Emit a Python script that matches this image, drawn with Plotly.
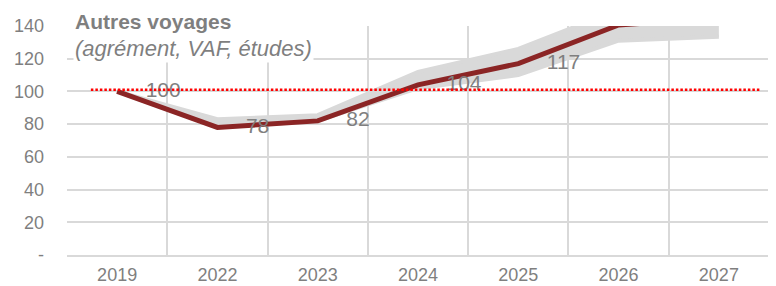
import plotly.graph_objects as go

years = ["2019", "2022", "2023", "2024", "2025", "2026", "2027"]
central = [100, 78, 82, 104, 117, 140.6, 145]
band_low = [100, 78, 82, 102, 110, 131, 133.5]
band_high = [100, 83, 85.5, 112, 126, 150, 155]
ref_level = 101
y_ticks = [0, 20, 40, 60, 80, 100, 120, 140]
y_ticktext = ["-", "20", "40", "60", "80", "100", "120", "140"]
Y_MAX = 140

GRAY_TXT = "#7f7f7f"
GRID = "#d9d9d9"
FONT = "Liberation Sans, Arial, sans-serif"

fig = go.Figure()

fig.add_trace(go.Scatter(x=years, y=band_low, mode="lines",
                         line=dict(color=GRID, width=4), hoverinfo="skip", showlegend=False))
fig.add_trace(go.Scatter(x=years, y=band_high, mode="lines", fill="tonexty",
                         fillcolor=GRID, line=dict(color=GRID, width=4),
                         hoverinfo="skip", showlegend=False))
fig.add_trace(go.Scatter(x=years, y=central, mode="lines",
                         line=dict(color="#8B2525", width=5), showlegend=False))

lab_x = [x for x, v in zip(years, central) if v <= Y_MAX]
lab_y = [v for v in central if v <= Y_MAX]
lab_t = [f"{v:.0f}" for v in lab_y]
fig.add_trace(go.Scatter(x=lab_x, y=lab_y, mode="markers+text", text=lab_t,
                         textposition="middle right",
                         marker=dict(size=44, opacity=0),
                         textfont=dict(family=FONT, size=21, color=GRAY_TXT),
                         hoverinfo="skip", showlegend=False, cliponaxis=True))

fig.add_shape(type="line", xref="paper", yref="y", x0=0.034, x1=0.987,
              y0=ref_level, y1=ref_level, layer="above",
              line=dict(color="#ff0000", width=2.5, dash="2.5px,2px"))

fig.add_annotation(xref="paper", yref="paper", x=0, y=1.0786, xanchor="left", yanchor="top",
                   xshift=6,
                   text="<b>Autres voyages</b><br><i><span style='font-size:22px'>(agrément, VAF, études)</span></i>",
                   showarrow=False, align="left", bgcolor="white", borderpad=1,
                   font=dict(family=FONT, size=21, color=GRAY_TXT))

# the page body adds an 8 px offset on the left and top
fig.update_layout(
    width=768, height=278,
    margin=dict(l=59, r=7, t=18, b=31, autoexpand=False),
    plot_bgcolor="white", paper_bgcolor="white",
    font=dict(family=FONT, color=GRAY_TXT),
)
fig.update_xaxes(type="category", tickson="boundaries", showgrid=True, gridcolor=GRID,
                 gridwidth=1.5, ticks="", showline=True, linecolor=GRID, linewidth=1.5,
                 tickfont=dict(size=18, color=GRAY_TXT), ticklabelstandoff=3,
                 range=[-0.5, 6.5], automargin=False)
fig.update_yaxes(range=[0, Y_MAX], tickvals=y_ticks, ticktext=y_ticktext, showgrid=True,
                 gridcolor=GRID, gridwidth=1.5, zeroline=False, ticks="",
                 tickfont=dict(size=18, color=GRAY_TXT), ticklabelstandoff=22,
                 automargin=False)

fig.write_html("out.html")
